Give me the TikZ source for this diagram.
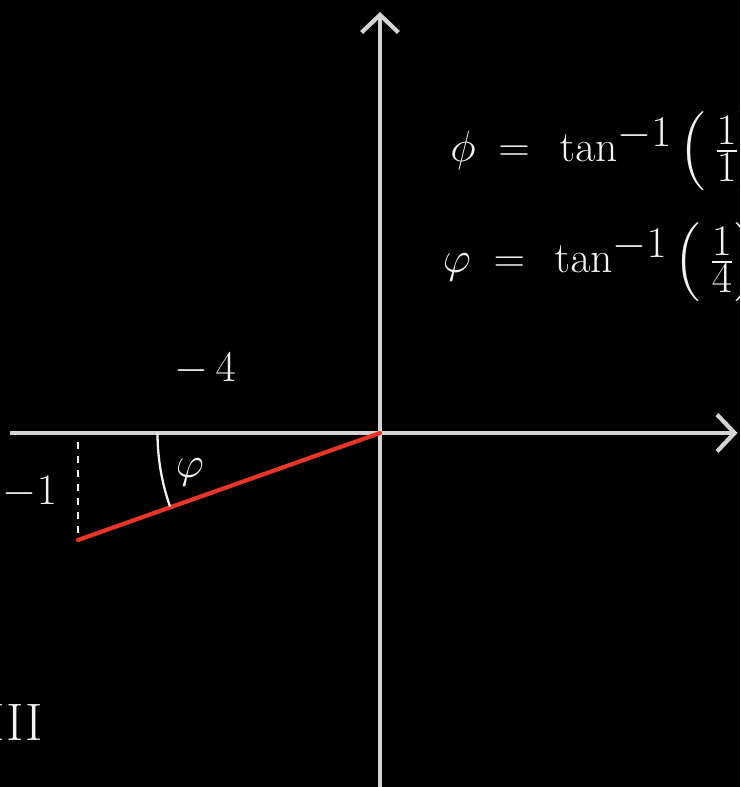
\documentclass[tikz,border=0pt]{standalone}
\usepackage{amsmath}
\usepackage{tikz}
\usetikzlibrary{arrows.meta, positioning}
\definecolor{boardBlack}{HTML}{000000}
\definecolor{axisGray}{HTML}{D4D4D4}
\definecolor{vectorRed}{HTML}{E8352A}
\definecolor{chalkWhite}{HTML}{F2F2F2}

\begin{document}
\begin{tikzpicture}[
    axis/.style={draw=axisGray, line width=2.8pt, -{Straight Barb[length=10pt, width=21pt, line width=2.4pt]}},
    vector/.style={draw=vectorRed, line width=2.4pt, line cap=round},
    guide/.style={draw=chalkWhite, line width=1.2pt, dash pattern=on 4pt off 4pt},
    chalk/.style={text=chalkWhite, inner sep=0pt},
]
    % Board
    \fill[boardBlack] (0, 0) rectangle (14.8, 15.74);
    \clip (0, 0) rectangle (14.8, 15.74);

    % Axes
    \coordinate (origin) at (7.6, 7.08);
    \coordinate (xleft) at (0.2, 7.08);
    \coordinate (xright) at (14.75, 7.08);
    \coordinate (ybottom) at (7.6, -0.2);
    \coordinate (ytop) at (7.6, 15.5);
    \draw[axis] (xleft) -- (xright);
    \draw[axis] (ybottom) -- (ytop);

    % Vector in quadrant III
    \coordinate (tip) at (1.56, 4.94);
    \coordinate (foot) at (1.56, 6.9);
    \draw[guide] (foot) -- (tip);
    \draw[vector] (origin) -- (tip);

    % Angle
    \draw[chalkWhite, line width=1.3pt] ([shift={(180:4.45)}]origin) arc (180:199.3:4.45);
    \node[chalk, font=\fontsize{26}{30}\selectfont] (phi) at (3.8, 6.3) {$\varphi$};

    % Labels
    \node[chalk, font=\fontsize{26}{30}\selectfont] (dx) at (4.1, 8.36) {$-\,4$};
    \node[chalk, font=\fontsize{24}{28}\selectfont] (dy) at (0.6, 5.9) {$-1$};
    \node[chalk, font=\fontsize{30}{36}\selectfont] (quad) at (0.3, 1.3) {III};

    % Equations (cut off at the right edge of the board)
    \node[chalk, anchor=west, font=\fontsize{34}{40}\selectfont] (eqone) at (9.0, 12.72)
        {$\phi\hspace{6pt}=\hspace{10pt}\tan^{-1}\left(\hspace{5pt}\frac{1}{1}\right)$};
    \node[chalk, anchor=west, font=\fontsize{34}{40}\selectfont] (eqtwo) at (8.85, 10.5)
        {$\varphi\hspace{6pt}=\hspace{10pt}\tan^{-1}\left(\hspace{5pt}\frac{1}{4}\right)$};
\end{tikzpicture}
\end{document}
